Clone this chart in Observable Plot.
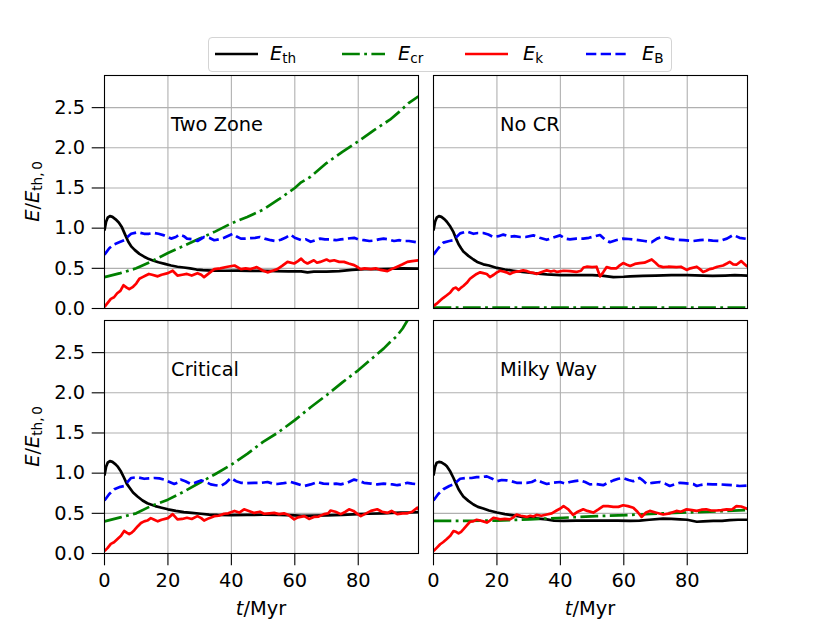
<!DOCTYPE html>
<html><head><meta charset="utf-8">
<script src="https://cdn.jsdelivr.net/npm/d3@7"></script>
<script src="https://cdn.jsdelivr.net/npm/@observablehq/plot@0.6"></script>
<style>
body{margin:0;background:#fff;font-family:"DejaVu Sans",sans-serif;}
#wrap{width:830px;}
#legendRow{position:relative;height:72px;width:830px;}
#legend{position:absolute;left:208px;top:36.5px;width:464px;height:35px;box-sizing:border-box;border:1px solid #d4d4d4;border-radius:4px;background:#fff;}
#legend svg{display:block;}
</style></head><body>
<div id="wrap"><div id="legendRow"><div id="legend"></div></div><div id="chart"></div></div>
<script>
// ---- categories / ticks ----
const panelNames = ["Two Zone", "No CR", "Critical", "Milky Way"];
const panelCol = [0, 1, 0, 1];
const panelRow = [0, 0, 1, 1];
const seriesKeys = ["th", "cr", "k", "B"];
const seriesColors = ["black", "green", "red", "blue"];
const seriesDash = [undefined, "17.8,4.4,2.8,4.4", undefined, "10.3,4.4"];
const xTicks = [0, 20, 40, 60, 80];
const yTicks = [0, 0.5, 1, 1.5, 2, 2.5];
const xDomain = [0, 99];
const yDomain = [0, 2.9];

// ---- Two Zone ----
const twoZone_th = [[0,0.97],[0.5,1.08],[1,1.13],[1.7,1.15],[2.5,1.14],[3.5,1.11],[4.5,1.07],[5.5,1.01],[6.5,0.92],[7.5,0.83],[8.5,0.77],[9.5,0.73],[11,0.68],[12.5,0.645],[14,0.615],[15.5,0.595],[17,0.575],[19,0.555],[21,0.535],[23,0.52],[25,0.51],[27,0.5],[29,0.485],[31,0.478],[34,0.472],[38,0.47],[42,0.472],[46,0.468],[50,0.47],[54,0.465],[58,0.463],[62,0.462],[64,0.45],[66,0.458],[70,0.46],[74,0.465],[78,0.48],[82,0.49],[86,0.49],[90,0.495],[94,0.5],[99,0.495]];
const twoZone_cr = [[0,0.39],[5,0.44],[10,0.5],[15,0.59],[20,0.69],[25,0.78],[30,0.87],[35,0.96],[40,1.06],[45,1.14],[50,1.23],[55,1.36],[60,1.5],[62,1.57],[65,1.64],[70,1.81],[75,1.95],[80,2.08],[85,2.22],[90,2.35],[93,2.45],[96,2.56],[99,2.64]];
const twoZone_k = [[0,0.02],[1,0.07],[2,0.12],[3,0.14],[4,0.19],[5,0.22],[6,0.29],[7,0.26],[7.8,0.24],[9,0.27],[10,0.31],[11,0.37],[12,0.39],[13,0.41],[14,0.43],[15,0.42],[16.8,0.4],[18,0.42],[20,0.44],[21.5,0.47],[23,0.41],[24.5,0.42],[26,0.43],[27.5,0.41],[29.3,0.44],[30.5,0.42],[31.4,0.39],[33,0.44],[34.6,0.49],[36.5,0.5],[38.8,0.52],[41,0.535],[43,0.49],[44.5,0.5],[46,0.49],[48,0.515],[50,0.47],[51.4,0.45],[53,0.47],[54.5,0.49],[56,0.53],[57.7,0.58],[59.8,0.56],[61,0.59],[62,0.62],[63,0.58],[64,0.56],[66,0.6],[67,0.57],[68,0.58],[70,0.61],[71,0.59],[72.4,0.6],[74,0.58],[75.5,0.58],[77,0.56],[78.7,0.54],[80,0.51],[80.8,0.49],[82,0.5],[84,0.49],[85.5,0.5],[87,0.48],[89.2,0.465],[90.5,0.49],[92.3,0.52],[94,0.55],[95.5,0.58],[97,0.59],[99,0.6]];
const twoZone_B = [[0,0.67],[1.5,0.75],[3.1,0.8],[5,0.83],[6.2,0.85],[7.5,0.9],[8.4,0.93],[10.5,0.95],[12.5,0.93],[14,0.93],[15.7,0.94],[17,0.93],[18.8,0.91],[21,0.87],[22.5,0.89],[23.6,0.92],[25,0.9],[26,0.87],[28,0.86],[29.3,0.84],[31.4,0.89],[33,0.88],[34.6,0.85],[36,0.86],[37.7,0.88],[40.4,0.93],[41.5,0.9],[43,0.87],[44.5,0.87],[46,0.875],[47.5,0.88],[49,0.89],[50.5,0.87],[52.4,0.85],[54,0.84],[55.6,0.855],[57,0.88],[58.7,0.92],[60,0.88],[62,0.85],[63.5,0.86],[65,0.83],[66.5,0.85],[68,0.87],[69.5,0.86],[71.3,0.86],[73,0.85],[74.5,0.86],[76.5,0.87],[78.7,0.88],[80,0.86],[81.8,0.85],[83.5,0.84],[85,0.845],[86.5,0.86],[88,0.87],[89.5,0.86],[91.3,0.84],[93,0.85],[94.4,0.84],[96,0.84],[99,0.82]];

// ---- No CR ----
const noCR_th = [[0,0.97],[0.5,1.08],[1,1.13],[1.7,1.15],[2.5,1.14],[3.5,1.11],[4.2,1.08],[5.3,1.02],[6.3,0.95],[7.1,0.87],[7.9,0.8],[8.7,0.75],[9.4,0.71],[11,0.655],[12.6,0.61],[14,0.575],[15.7,0.55],[17.5,0.535],[20,0.505],[22.5,0.485],[25.2,0.47],[28,0.455],[30.4,0.445],[33,0.435],[35.7,0.425],[40,0.415],[45,0.415],[50,0.415],[53,0.41],[56.7,0.39],[60,0.395],[62,0.4],[66,0.405],[70,0.41],[75,0.415],[80,0.415],[85,0.41],[88,0.405],[92,0.41],[95,0.415],[99,0.41]];
const noCR_cr = [[0,0.01],[50,0.01],[99,0.01]];
const noCR_k = [[0,0.03],[1,0.06],[2.1,0.1],[3,0.13],[4.2,0.165],[5.3,0.2],[6.3,0.25],[7.1,0.26],[7.9,0.23],[8.7,0.26],[9.4,0.28],[10.5,0.32],[11.5,0.37],[12.5,0.4],[13.6,0.43],[14.7,0.45],[15.7,0.44],[16.8,0.43],[17.8,0.39],[19,0.42],[20,0.45],[21,0.47],[22,0.46],[23,0.45],[24.1,0.43],[25.2,0.45],[26.2,0.46],[27.3,0.465],[28.3,0.475],[29.5,0.465],[30.4,0.45],[31.5,0.445],[32.5,0.43],[33.5,0.445],[34.6,0.46],[35.7,0.475],[37,0.46],[38,0.47],[39,0.455],[41,0.47],[43,0.465],[45,0.455],[46.5,0.47],[47.3,0.51],[48.3,0.52],[50,0.515],[51.4,0.52],[52.5,0.4],[53.5,0.45],[54.6,0.515],[56,0.5],[57.7,0.5],[58.5,0.53],[59.8,0.565],[61,0.545],[62,0.53],[63.5,0.555],[65,0.565],[66.5,0.57],[68.8,0.61],[70,0.57],[71,0.53],[72.4,0.515],[74,0.52],[76.6,0.515],[78,0.52],[79.8,0.48],[81,0.5],[83,0.52],[84,0.49],[85,0.455],[86,0.47],[87,0.49],[88.2,0.5],[89.5,0.52],[91.3,0.535],[92.5,0.56],[93.4,0.58],[94.5,0.55],[95.5,0.545],[97,0.59],[98,0.555],[99,0.52]];
const noCR_B = [[0,0.67],[1.5,0.75],[3.1,0.82],[5,0.84],[6.3,0.85],[7.5,0.9],[8.4,0.935],[10.5,0.96],[12.6,0.93],[14,0.94],[15.7,0.94],[17.3,0.92],[18.9,0.89],[20.5,0.9],[22,0.92],[24.1,0.895],[25.5,0.9],[27.3,0.89],[29,0.89],[31.5,0.91],[33.5,0.88],[35.7,0.855],[37.5,0.88],[39.9,0.91],[41.5,0.87],[43,0.86],[45,0.87],[47.2,0.87],[49,0.88],[50.5,0.895],[52.5,0.915],[54,0.86],[55.6,0.825],[57.5,0.85],[59.8,0.87],[61.5,0.865],[64,0.855],[66.5,0.84],[68.8,0.825],[70.5,0.87],[72.4,0.895],[74.5,0.87],[76.6,0.855],[79,0.85],[81.9,0.84],[84,0.85],[86,0.855],[88,0.845],[90.3,0.84],[92.5,0.87],[94.5,0.915],[96.5,0.88],[99,0.865]];

// ---- Critical ----
const critical_th = [[0,0.97],[0.5,1.08],[1,1.13],[1.7,1.15],[2.5,1.14],[3.5,1.11],[4.1,1.085],[5.2,1.02],[6.2,0.94],[7,0.87],[7.8,0.825],[9,0.76],[10.4,0.71],[12,0.66],[13.5,0.625],[14.6,0.61],[16,0.59],[18,0.57],[20,0.55],[22.5,0.53],[25,0.515],[27.5,0.505],[30.4,0.495],[33,0.485],[35.6,0.48],[40,0.478],[45,0.48],[50,0.482],[55,0.48],[60,0.475],[62,0.47],[66,0.472],[70,0.475],[75,0.48],[80,0.49],[83,0.495],[88,0.5],[93.4,0.51],[96,0.51],[99,0.515]];
const critical_cr = [[0,0.4],[5,0.45],[10,0.5],[14.6,0.59],[20,0.67],[25,0.77],[30,0.88],[35,0.99],[40,1.105],[45,1.24],[50,1.39],[54.5,1.5],[60,1.66],[65,1.82],[70,1.97],[75,2.13],[80,2.28],[85,2.45],[88,2.55],[90,2.63],[92,2.7],[94,2.8],[95.5,2.9],[97,3.0],[99,3.1]];
const critical_k = [[0,0.03],[1,0.07],[2,0.12],[3,0.14],[4.1,0.18],[5.2,0.22],[6.2,0.28],[7,0.26],[7.8,0.24],[8.6,0.26],[9.4,0.29],[10.5,0.34],[11.5,0.38],[12.5,0.4],[13.5,0.41],[14.6,0.44],[15.7,0.42],[16.8,0.4],[18,0.42],[20,0.44],[21.5,0.49],[23,0.425],[24.5,0.43],[26,0.445],[27.5,0.43],[29.3,0.465],[30.5,0.44],[31.4,0.41],[33,0.44],[34.6,0.465],[36,0.47],[37.7,0.495],[39,0.5],[41,0.53],[42.5,0.51],[44,0.55],[45.5,0.53],[47.2,0.505],[49,0.52],[50.3,0.495],[52,0.5],[53.5,0.505],[55,0.49],[56.6,0.5],[58,0.48],[59.8,0.425],[61,0.45],[63,0.465],[64.5,0.43],[66,0.455],[67.5,0.46],[69.2,0.49],[70.5,0.5],[71.3,0.535],[72.8,0.52],[74.5,0.49],[76,0.52],[77.1,0.55],[78.5,0.53],[79.5,0.5],[80.8,0.465],[82.5,0.5],[84,0.53],[86,0.55],[87.5,0.52],[89.2,0.505],[90.5,0.53],[92.3,0.49],[94,0.5],[95.5,0.5],[97,0.52],[98.6,0.57],[99,0.55]];
const critical_B = [[0,0.66],[1.5,0.74],[3.1,0.8],[5,0.83],[6.2,0.84],[7.5,0.9],[8.4,0.94],[10.4,0.95],[12.5,0.93],[14,0.935],[15.7,0.94],[17.3,0.935],[18.8,0.92],[20.5,0.89],[22,0.865],[23,0.88],[24,0.92],[25.5,0.9],[27.2,0.865],[28.5,0.88],[30.4,0.91],[32,0.89],[33.5,0.86],[35,0.85],[36.7,0.84],[38.3,0.88],[39.8,0.94],[41.5,0.9],[43,0.88],[45,0.875],[47.2,0.88],[49.5,0.88],[51.4,0.89],[53,0.87],[54.5,0.865],[56.5,0.875],[58.7,0.89],[60.5,0.87],[63,0.84],[65,0.86],[67.1,0.89],[69,0.87],[71.3,0.865],[73,0.87],[74.5,0.86],[76.5,0.88],[78.7,0.92],[80.5,0.9],[81.8,0.88],[84,0.87],[86,0.86],[88,0.87],[89.2,0.865],[90.8,0.86],[92.3,0.85],[94,0.86],[95.5,0.88],[97,0.87],[99,0.86]];

// ---- Milky Way ----
const milkyWay_th = [[0,0.97],[0.5,1.08],[1,1.13],[1.7,1.14],[2.5,1.135],[3.5,1.11],[4.2,1.085],[5.3,1.02],[6.3,0.94],[7.1,0.87],[7.9,0.8],[8.7,0.75],[9.4,0.71],[11,0.655],[12.6,0.61],[14,0.58],[15.7,0.56],[17.5,0.535],[20,0.51],[22.5,0.49],[25.2,0.475],[28,0.455],[30.4,0.445],[33,0.435],[35.7,0.425],[38,0.41],[41,0.405],[45,0.41],[51.4,0.41],[55,0.41],[58,0.41],[62,0.405],[65,0.41],[68,0.42],[72.4,0.435],[75,0.43],[77.7,0.425],[80,0.42],[83,0.395],[85,0.4],[88.2,0.405],[91,0.405],[93.4,0.415],[96,0.42],[99,0.42]];
const milkyWay_cr = [[0,0.405],[10,0.405],[20,0.41],[30.4,0.425],[41,0.445],[51.4,0.465],[62,0.48],[72.4,0.5],[83,0.515],[90,0.525],[99,0.54]];
const milkyWay_k = [[0,0.03],[1,0.07],[2.1,0.115],[3,0.14],[4.2,0.18],[5.3,0.22],[6.3,0.28],[7.1,0.27],[7.9,0.25],[8.7,0.27],[9.4,0.3],[10.5,0.35],[11.5,0.395],[12.5,0.4],[13.6,0.42],[14.7,0.41],[15.7,0.4],[16.8,0.385],[17.8,0.41],[18.9,0.445],[20,0.435],[21,0.425],[22.5,0.43],[24.1,0.425],[25.2,0.45],[26.2,0.485],[27.5,0.47],[29.4,0.455],[30.5,0.47],[31.5,0.46],[32.5,0.48],[34,0.47],[35.7,0.485],[37.3,0.5],[38.8,0.535],[40,0.56],[41,0.59],[42.5,0.55],[44,0.48],[45.5,0.52],[47.2,0.55],[48.5,0.53],[50.4,0.51],[52,0.55],[53.5,0.59],[55,0.59],[56.7,0.58],[58.3,0.58],[59.8,0.6],[61.3,0.59],[63,0.57],[64.3,0.52],[65.6,0.455],[67,0.51],[68.2,0.53],[70,0.51],[72.4,0.485],[74.5,0.5],[76.6,0.53],[78,0.52],[79.8,0.55],[81.5,0.54],[83,0.53],[84.5,0.545],[86,0.55],[87.5,0.535],[89.2,0.535],[90.8,0.54],[92.4,0.55],[94,0.545],[95.5,0.59],[97,0.585],[99,0.555]];
const milkyWay_B = [[0,0.66],[1.5,0.74],[3.1,0.8],[5,0.84],[6.3,0.86],[7.5,0.9],[8.4,0.93],[10.5,0.94],[12,0.94],[13.6,0.95],[15,0.95],[16.8,0.96],[18.5,0.93],[20,0.9],[21.5,0.915],[23.1,0.91],[24.5,0.9],[26.2,0.88],[28,0.88],[29.4,0.88],[31,0.89],[32.5,0.92],[34,0.89],[35.7,0.865],[37.5,0.88],[39.9,0.89],[41.5,0.87],[43,0.89],[44.5,0.9],[46.2,0.91],[47.8,0.89],[49.3,0.86],[51,0.865],[53.5,0.85],[55,0.88],[56.7,0.91],[58.3,0.93],[59.8,0.94],[61.5,0.915],[63,0.9],[64,0.92],[65,0.94],[66,0.91],[67.2,0.865],[69,0.88],[71.4,0.89],[73,0.87],[74.5,0.84],[76,0.86],[77.7,0.88],[79,0.875],[80.5,0.87],[81.9,0.865],[83,0.84],[84.5,0.855],[86,0.865],[88,0.86],[90.3,0.86],[92.5,0.855],[94.5,0.85],[96.5,0.84],[99,0.845]];

const seriesByPanel = [
  [twoZone_th, twoZone_cr, twoZone_k, twoZone_B],
  [noCR_th, noCR_cr, noCR_k, noCR_B],
  [critical_th, critical_cr, critical_k, critical_B],
  [milkyWay_th, milkyWay_cr, milkyWay_k, milkyWay_B]
];

const rows = [];
seriesByPanel.forEach((list, p) => list.forEach((pts, s) => pts.forEach(([t, v]) =>
  rows.push({panel: panelNames[p], col: panelCol[p], row: panelRow[p], s: seriesKeys[s], t, v}))));
const labels = panelNames.map((name, p) => ({name, col: panelCol[p], row: panelRow[p]}));

const W = 830, H = 551;
const FS = 19.4;
const LW = 2.7;
const chart = Plot.plot({
  width: W, height: H,
  marginLeft: 103.5, marginRight: 82.7, marginTop: 2, marginBottom: 68.7,
  style: {fontFamily: '"DejaVu Sans", sans-serif', fontSize: FS + "px", color: "black", background: "white", overflow: "visible"},
  fx: {domain: [0, 1], paddingInner: 0.0467, paddingOuter: 0, axis: null},
  fy: {domain: [0, 1], paddingInner: 0.04756, paddingOuter: 0, axis: null},
  x: {domain: xDomain},
  y: {domain: yDomain},
  marks: [
    Plot.gridX(xTicks.slice(1), {stroke: "#b0b0b0", strokeOpacity: 1, strokeWidth: 1.1}),
    Plot.gridY(yTicks.slice(1), {stroke: "#b0b0b0", strokeOpacity: 1, strokeWidth: 1.1}),
    ...seriesKeys.map((k, i) => Plot.line(rows.filter(d => d.s === k), {
      x: "t", y: "v", z: "panel", fx: "col", fy: "row",
      stroke: seriesColors[i], strokeWidth: LW, strokeDasharray: seriesDash[i],
      strokeLinejoin: "round", strokeLinecap: "butt", clip: true
    })),
    Plot.text(labels, {x: 21, y: 2.29, text: "name", fx: "col", fy: "row", textAnchor: "start", fill: "black", fontSize: FS}),
    Plot.frame({stroke: "black", strokeWidth: 1.1}),
    Plot.axisX(xTicks, {facetAnchor: "bottom", tickSize: 12.3, tickPadding: 7, label: null, stroke: "black", strokeWidth: 1.1, fill: "black", fontSize: FS, tickFormat: d => String(d)}),
    Plot.axisY(yTicks, {facetAnchor: "left", tickSize: 12.3, tickPadding: 7, label: null, stroke: "black", strokeWidth: 1.1, fill: "black", fontSize: FS, tickFormat: d => d.toFixed(1)})
  ]
});
document.getElementById("chart").appendChild(chart);

// axis titles (mathtext-style) placed from the facet scales
const svg = d3.select(chart);
const fxS = chart.scale("fx"), fyS = chart.scale("fy");
const SUB = 13.6;
[0, 1].forEach(r => {
  const cy = fyS.apply(r) + fyS.bandwidth / 2;
  const t = svg.append("text")
    .attr("transform", `translate(38.5,${cy}) rotate(-90)`)
    .attr("text-anchor", "middle").attr("font-size", FS).attr("fill", "black")
    .attr("font-family", '"DejaVu Sans", sans-serif');
  t.append("tspan").attr("font-style", "italic").text("E");
  t.append("tspan").text("/");
  t.append("tspan").attr("font-style", "italic").text("E");
  t.append("tspan").attr("font-size", SUB).attr("dy", 3.8).text("th,\u20090");
});
[0, 1].forEach(c => {
  const cx = fxS.apply(c) + fxS.bandwidth / 2;
  const t = svg.append("text")
    .attr("x", cx).attr("y", H - 8)
    .attr("text-anchor", "middle").attr("font-size", FS).attr("fill", "black")
    .attr("font-family", '"DejaVu Sans", sans-serif');
  t.append("tspan").attr("font-style", "italic").text("t");
  t.append("tspan").text("/Myr");
});

// legend
const legendItems = seriesKeys.map((k, i) => ({k, color: seriesColors[i], dash: seriesDash[i]}));
const swatchLeft = [6, 133, 256, 377];
const textLeft = [61, 189, 314, 433];
const lg = d3.select("#legend").append("svg").attr("width", 462).attr("height", 33);
legendItems.forEach((it, i) => {
  lg.append("line").attr("x1", swatchLeft[i]).attr("x2", swatchLeft[i] + 43)
    .attr("y1", 16).attr("y2", 16).attr("stroke", it.color).attr("stroke-width", LW)
    .attr("stroke-dasharray", it.dash || null);
  const t = lg.append("text").attr("x", textLeft[i]).attr("y", 22)
    .attr("font-size", FS).attr("fill", "black").attr("font-family", '"DejaVu Sans", sans-serif');
  t.append("tspan").attr("font-style", "italic").text("E");
  t.append("tspan").attr("font-size", SUB).attr("dy", 3).text(it.k);
});
</script>
</body></html>
